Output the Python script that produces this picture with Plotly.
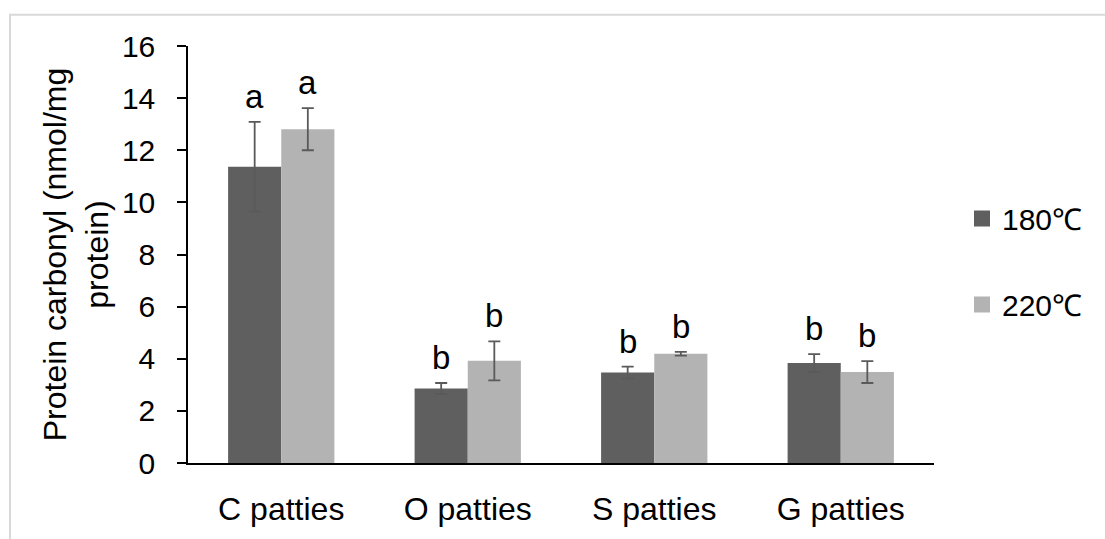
import plotly.graph_objects as go

# Protein carbonyl content of patties cooked at two temperatures
categories = ["C patties", "O patties", "S patties", "G patties"]
temp_labels = ["180℃", "220℃"]
mean_180 = [11.37, 2.86, 3.47, 3.84]
sd_180 = [1.72, 0.21, 0.23, 0.34]
mean_220 = [12.81, 3.92, 4.19, 3.49]
sd_220 = [0.81, 0.75, 0.07, 0.42]
letters_180 = ["a", "b", "b", "b"]
letters_220 = ["a", "b", "b", "b"]

W, H = 1105, 539
ML, MR, MT, MB = 188, 171, 46, 66
FONT = "Liberation Sans, Arial, sans-serif"
DARK, LIGHT, ERR = "#5f5f5f", "#b3b3b3", "#5a5a5a"
BARGAP = 0.43

fig = go.Figure()
for means, sds, color in [(mean_180, sd_180, DARK), (mean_220, sd_220, LIGHT)]:
    fig.add_trace(go.Bar(
        x=categories, y=means, marker=dict(color=color, line=dict(width=0)),
        error_y=dict(type="data", array=sds, visible=True, color=ERR,
                     thickness=1.8, width=6),
        showlegend=False,
    ))

# legend entries drawn as square markers
for name, color, grp in [(temp_labels[0], DARK, "g1"), (temp_labels[1], LIGHT, "g2")]:
    fig.add_trace(go.Scatter(
        x=[None], y=[None], mode="markers", name=name, legendgroup=grp,
        marker=dict(symbol="square", size=17, color=color),
    ))

# significance letters above each error bar
offset = (1 - BARGAP) / 4
annotations = []
for i in range(len(categories)):
    for dx, means, sds, letters in [(-offset, mean_180, sd_180, letters_180),
                                    (offset, mean_220, sd_220, letters_220)]:
        annotations.append(dict(
            x=i + dx, y=means[i] + sds[i], xref="x", yref="y", text=letters[i],
            showarrow=False, yanchor="bottom", yshift=5,
            font=dict(family=FONT, size=33, color="#000000"),
        ))

pw = W - ML - MR
ph = H - MT - MB
frame = dict(
    type="rect", xref="paper", yref="paper", layer="below",
    x0=(10 - ML) / pw, x1=(1125 - ML) / pw,
    y0=(H - MB - 560) / ph, y1=(H - MB - 14) / ph,
    line=dict(color="#d9d9d9", width=2), fillcolor="rgba(0,0,0,0)",
)

fig.update_layout(
    width=W, height=H,
    margin=dict(l=ML, r=MR, t=MT, b=MB, pad=0),
    paper_bgcolor="white", plot_bgcolor="white",
    barmode="group", bargap=BARGAP, bargroupgap=0,
    font=dict(family=FONT, size=30, color="#000000"),
    annotations=annotations,
    shapes=[frame],
    legend=dict(
        x=(962 - ML) / pw, xanchor="left",
        y=(H - MB - 196) / ph, yanchor="top",
        font=dict(family=FONT, size=30, color="#000000"),
        tracegroupgap=44, itemwidth=30, bgcolor="rgba(0,0,0,0)",
    ),
    xaxis=dict(
        type="category", showline=True, linecolor="#000000", linewidth=1.5,
        ticks="", showgrid=False, zeroline=False, ticklabelstandoff=17,
        tickfont=dict(family=FONT, size=32, color="#000000"),
    ),
    yaxis=dict(
        range=[0, 16], tickvals=[0, 2, 4, 6, 8, 10, 12, 14, 16],
        showline=True, linecolor="#000000", linewidth=1.5,
        ticks="outside", ticklen=9, tickwidth=1.5, tickcolor="#000000",
        showgrid=False, zeroline=False, ticklabelstandoff=16,
        tickfont=dict(family=FONT, size=30, color="#000000"),
        title=dict(text="Protein carbonyl (nmol/mg<br>protein)", standoff=4,
                   font=dict(family=FONT, size=32)),
    ),
)

fig.write_html("out.html")
